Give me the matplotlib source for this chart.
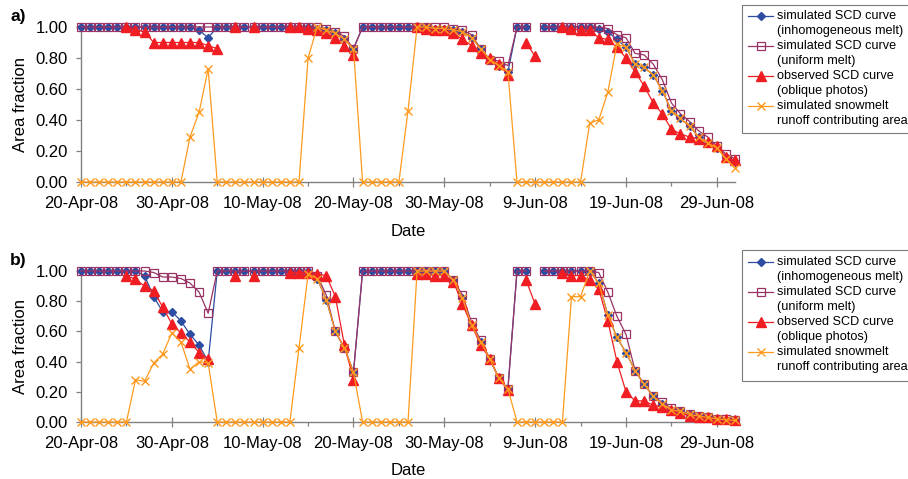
import numpy as np
import pandas as pd
import matplotlib
matplotlib.use('Agg')
import matplotlib.pyplot as plt
from matplotlib.lines import Line2D
from matplotlib.patches import Rectangle

plt.rcParams['font.family'] = ['Liberation Sans', 'DejaVu Sans']

nan = np.nan

# one value per day, 20-Apr-08 .. 1-Jul-08
dates = pd.date_range('2008-04-20', '2008-07-01', freq='D')

tick_dates = pd.to_datetime(['2008-04-20', '2008-04-30', '2008-05-10', '2008-05-20',
                             '2008-05-30', '2008-06-09', '2008-06-19', '2008-06-29'])
tick_labels = ['20-Apr-08', '30-Apr-08', '10-May-08', '20-May-08',
               '30-May-08', '9-Jun-08', '19-Jun-08', '29-Jun-08']
minor_dates = pd.to_datetime(['2008-04-25', '2008-05-05', '2008-05-15', '2008-05-25',
                              '2008-06-04', '2008-06-14', '2008-06-24'])
y_ticks = [0.0, 0.2, 0.4, 0.6, 0.8, 1.0]

# ---- panel a ----
a_inhom = [1, 1, 1, 1, 1, 1, 1, 1, 1, 1,
           1, 1, 1, 0.98, 0.93, 1, 1, 1, 1, 1,
           1, 1, 1, 1, 1, 1, 0.99, 0.98, 0.96, 0.92,
           0.86, 1, 1, 1, 1, 1, 1, 1, 1, 0.99,
           0.99, 0.98, 0.97, 0.93, 0.86, 0.79, 0.75, 0.71, 1, 1,
           nan, 1, 1, 1, 1, 1, 1, 0.99, 0.97, 0.92,
           0.87, 0.76, 0.74, 0.69, 0.59, 0.46, 0.41, 0.36, 0.29, 0.25,
           0.22, 0.16, 0.13]
a_unif = [1, 1, 1, 1, 1, 1, 1, 1, 1, 1,
          1, 1, 1, 1, 1, 1, 1, 1, 1, 1,
          1, 1, 1, 1, 1, 1, 1, 0.99, 0.97, 0.94,
          0.86, 1, 1, 1, 1, 1, 1, 1, 1, 1,
          1, 0.99, 0.98, 0.95, 0.86, 0.79, 0.78, 0.75, 1, 1,
          nan, 1, 1, 1, 1, 1, 1, 1, 0.99, 0.95,
          0.93, 0.83, 0.82, 0.76, 0.66, 0.51, 0.44, 0.39, 0.33, 0.29,
          0.23, 0.18, 0.15]
a_obs = [nan, nan, nan, nan, nan, 1, 0.98, 0.97, 0.90, 0.90,
         0.90, 0.90, 0.90, 0.90, 0.88, 0.86, nan, 1, nan, 1,
         nan, nan, nan, 1, 1, 0.99, 0.98, 0.96, 0.93, 0.88,
         0.82, nan, nan, nan, nan, nan, nan, 1, 0.99, 0.98,
         0.98, 0.96, 0.92, 0.88, 0.83, 0.80, 0.76, 0.69, nan, 0.90,
         0.81, nan, nan, 1, 0.99, 0.98, 0.98, 0.93, 0.92, 0.87,
         0.80, 0.71, 0.62, 0.51, 0.44, 0.34, 0.31, 0.29, 0.28, 0.26,
         0.23, 0.16, 0.14]
a_runoff = [0, 0, 0, 0, 0, 0, 0, 0, 0, 0,
            0, 0, 0.29, 0.45, 0.73, 0, 0, 0, 0, 0,
            0, 0, 0, 0, 0, 0.80, 1, 0.98, 0.96, 0.92,
            0.86, 0, 0, 0, 0, 0, 0.46, 1, 1, 0.99,
            0.99, 0.98, 0.97, 0.93, 0.86, 0.79, 0.75, 0.71, 0, 0,
            0, 0, 0, 0, 0, 0, 0.38, 0.40, 0.58, 0.89,
            0.87, 0.76, 0.74, 0.69, 0.59, 0.46, 0.41, 0.36, 0.29, 0.25,
            0.22, 0.15, 0.09]

# ---- panel b ----
b_inhom = [1, 1, 1, 1, 1, 1, 1, 0.97, 0.83, 0.73,
           0.73, 0.67, 0.58, 0.51, 0.40, 1, 1, 1, 1, 1,
           1, 1, 1, 1, 1, 1, 0.95, 0.81, 0.60, 0.49,
           0.33, 1, 1, 1, 1, 1, 1, 1, 1, 1,
           1, 0.94, 0.82, 0.64, 0.53, 0.42, 0.29, 0.22, 1, 1,
           nan, 1, 1, 1, 1, 1, 1, 0.92, 0.71, 0.56,
           0.46, 0.34, 0.25, 0.17, 0.12, 0.08, 0.07, 0.05, 0.04, 0.03,
           0.02, 0.015, 0.01]
b_unif = [1, 1, 1, 1, 1, 1, 1, 1, 0.99, 0.96,
          0.96, 0.95, 0.92, 0.86, 0.72, 1, 1, 1, 1, 1,
          1, 1, 1, 1, 1, 1, 0.97, 0.84, 0.60, 0.49,
          0.33, 1, 1, 1, 1, 1, 1, 1, 1, 1,
          1, 0.94, 0.84, 0.66, 0.54, 0.42, 0.29, 0.22, 1, 1,
          nan, 1, 1, 1, 1, 1, 1, 0.99, 0.86, 0.70,
          0.58, 0.34, 0.25, 0.17, 0.13, 0.09, 0.07, 0.05, 0.04, 0.03,
          0.02, 0.02, 0.01]
b_obs = [nan, nan, nan, nan, nan, 0.97, 0.945, 0.90, 0.87, 0.76,
         0.65, 0.59, 0.53, 0.46, 0.42, nan, nan, 0.97, nan, 0.97,
         nan, nan, nan, 0.99, 0.99, 0.99, 0.98, 0.97, 0.83, 0.51,
         0.28, nan, nan, nan, nan, nan, nan, 0.98, 0.98, 0.97,
         0.97, 0.93, 0.78, 0.64, 0.51, 0.42, 0.29, 0.21, nan, 0.94,
         0.78, nan, nan, 0.99, 0.97, 0.97, 0.94, 0.88, 0.67, 0.40,
         0.20, 0.14, 0.14, 0.11, 0.10, 0.08, 0.06, 0.04, 0.03, 0.03,
         0.02, 0.02, 0.01]
b_runoff = [0, 0, 0, 0, 0, 0, 0.28, 0.27, 0.39, 0.45,
            0.59, 0.53, 0.35, 0.40, 0.39, 0, 0, 0, 0, 0,
            0, 0, 0, 0, 0.49, 0.98, 0.95, 0.81, 0.60, 0.49,
            0.33, 0, 0, 0, 0, 0, 0, 1, 1, 1,
            1, 0.94, 0.82, 0.64, 0.53, 0.42, 0.29, 0.22, 0, 0,
            0, 0, 0, 0, 0.83, 0.83, 1, 0.92, 0.71, 0.56,
            0.46, 0.34, 0.25, 0.17, 0.12, 0.08, 0.07, 0.05, 0.04, 0.03,
            0.02, 0.015, 0.01]

labels = [['simulated SCD curve', '(inhomogeneous melt)'],
          ['simulated SCD curve', '(uniform melt)'],
          ['observed SCD curve', '(oblique photos)'],
          ['simulated snowmelt', 'runoff contributing area']]

# line / marker styles in legend order
styles = [
    dict(color='#2D4DA3', marker='D', ms=4.2, mfc='#2D4DA3', mec='#2D4DA3', lw=0.9),
    dict(color='#993366', marker='s', ms=5.6, mfc='none', mec='#993366', mew=0.9, lw=0.9),
    dict(color='#F01E23', marker='^', ms=6.5, mfc='#F01E23', mec='#F01E23', lw=0.9),
    dict(color='#FF9A1E', marker='x', ms=5.8, mew=1.0, lw=0.9),
]

W, H = 908, 479
fig = plt.figure(figsize=(W / 100, H / 100), dpi=100)


def fx(px):
    return px / W


def fy(py):
    return 1 - py / H


def draw_panel(rect, series, letter, letter_y):
    ax = fig.add_axes(rect)
    for vals, st in zip(series, styles):
        ax.plot(dates, vals, clip_on=False, **st)

    ax.set_xlim(dates[0], dates[-1])
    ax.set_ylim(0, 1)
    ax.set_yticks(y_ticks)
    ax.set_yticklabels(['%.2f' % v for v in y_ticks])
    ax.set_xticks(tick_dates)
    ax.set_xticklabels(tick_labels)
    ax.set_xticks(minor_dates, minor=True)

    for s in ['top', 'right']:
        ax.spines[s].set_visible(False)
    for s in ['left', 'bottom']:
        ax.spines[s].set_color('#808080')
        ax.spines[s].set_linewidth(1.0)
        ax.spines[s].set_zorder(0.5)
    ax.tick_params(axis='x', which='major', direction='inout', length=6.5, width=0.9,
                   color='#808080', pad=6.7, labelsize=12)
    ax.tick_params(axis='x', which='minor', direction='out', length=3, width=0.9,
                   color='#808080')
    ax.tick_params(axis='y', direction='out', length=3.6, width=0.9,
                   color='#808080', pad=6, labelsize=12)

    ax.set_ylabel('Area fraction', fontsize=12)
    ax.yaxis.label.set_va('center')
    ax.yaxis.set_label_coords(-0.093, 0.5)
    ax.set_xlabel('Date', fontsize=12)
    ax.xaxis.label.set_va('center')
    ax.xaxis.set_label_coords(0.5, -0.32)

    fig.text(fx(18), fy(letter_y), letter, ha='center', va='center',
             fontsize=12.5, fontweight='bold')
    return ax


def draw_legend(top, bottom, first_line):
    # Excel style legend box, right part runs off the figure
    box = Rectangle((fx(741.5), fy(bottom)), fx(940) - fx(741.5), fy(top) - fy(bottom),
                    transform=fig.transFigure, facecolor='white', edgecolor='#7a7a7a',
                    lw=0.8, zorder=5)
    fig.add_artist(box)
    step = 15
    for i, (lab, st) in enumerate(zip(labels, styles)):
        y1 = first_line + 2 * i * step
        h = Line2D([fx(748), fx(760.5), fx(773)], [fy(y1)] * 3, transform=fig.transFigure,
                   markevery=[1], zorder=6, **st)
        fig.add_artist(h)
        for k, line in enumerate(lab):
            fig.text(fx(777), fy(y1 + k * step), line, ha='left', va='center',
                     fontsize=9.1, zorder=6)


draw_panel([fx(81), fy(182), fx(735) - fx(81), fy(27) - fy(182)],
           [a_inhom, a_unif, a_obs, a_runoff], 'a)', 17)
draw_legend(5, 133, 16)

draw_panel([fx(81), fy(422), fx(735) - fx(81), fy(271) - fy(422)],
           [b_inhom, b_unif, b_obs, b_runoff], 'b)', 261)
draw_legend(250, 381, 262)

fig.savefig('out.png', dpi=100)
